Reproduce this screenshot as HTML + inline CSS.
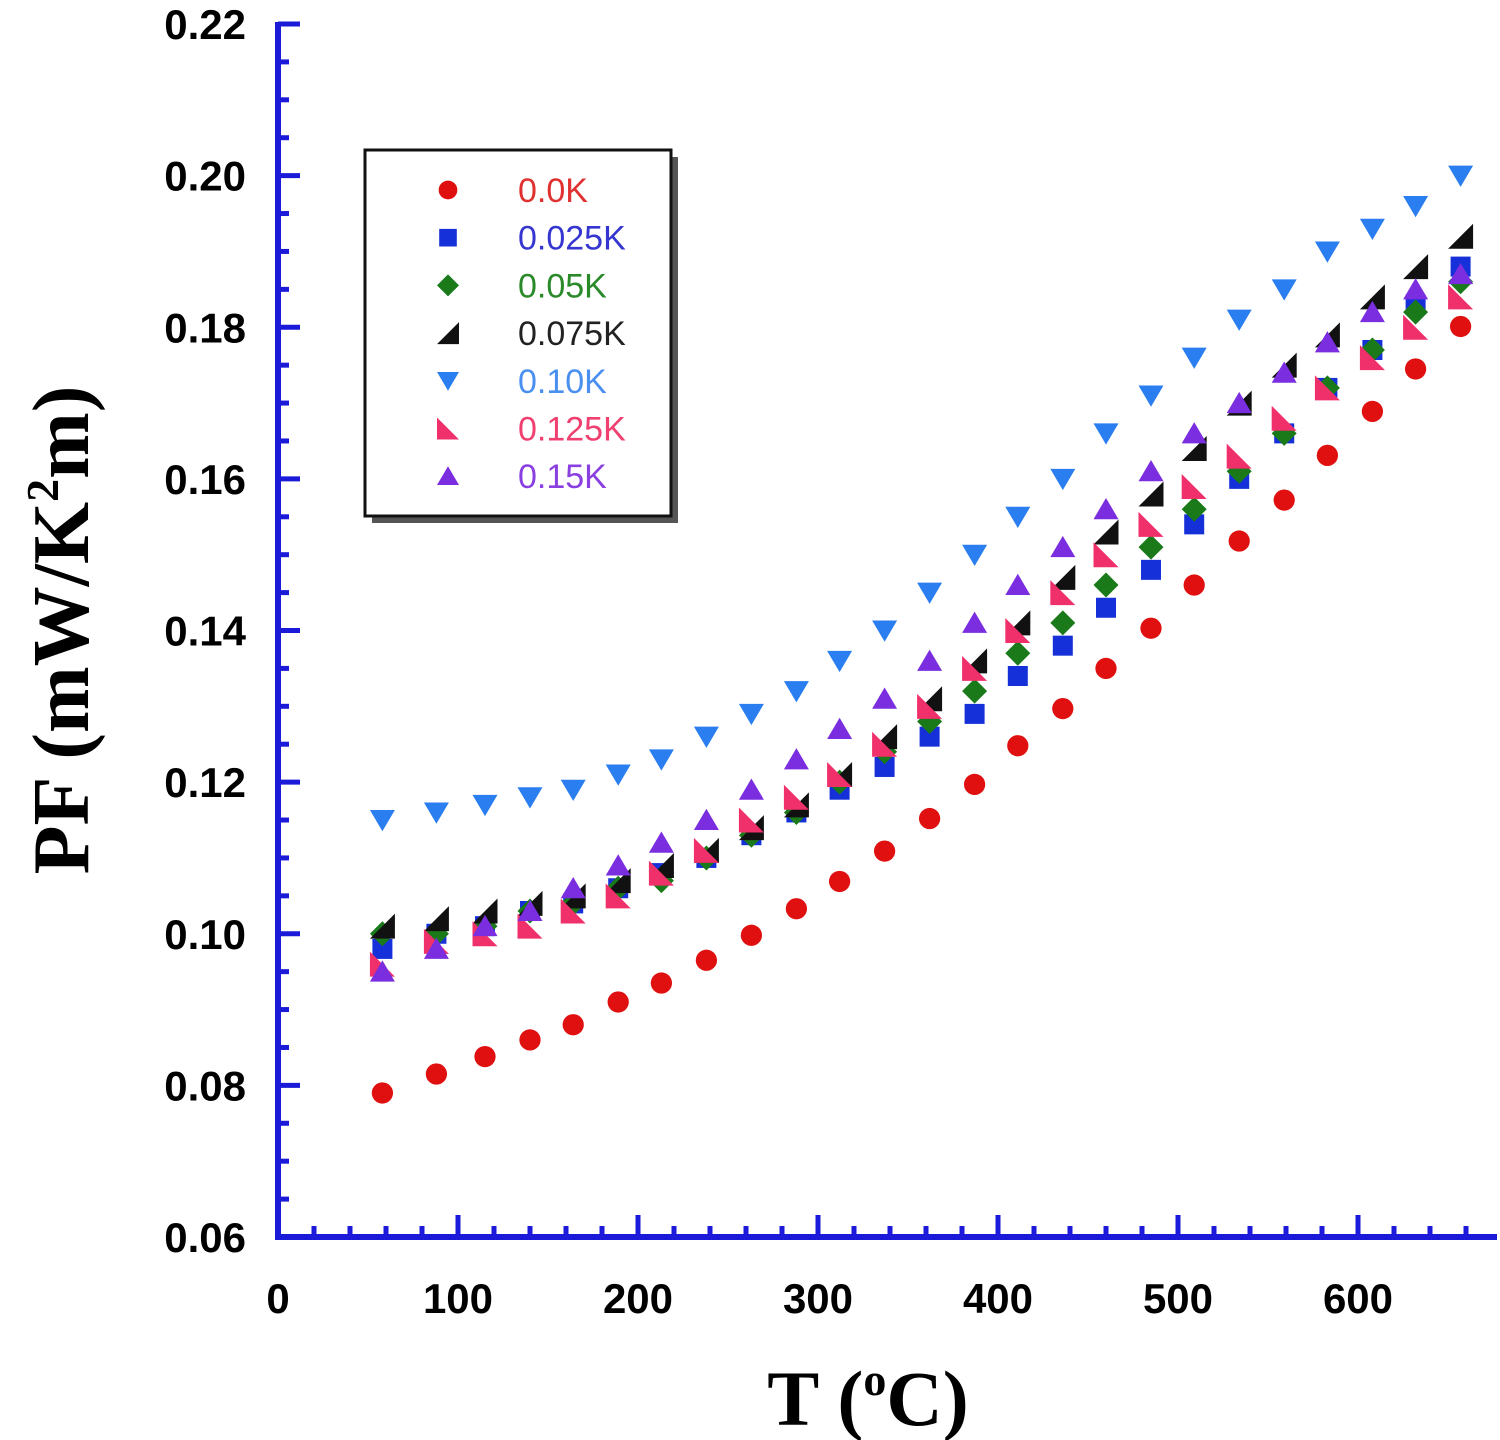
<!DOCTYPE html>
<html><head><meta charset="utf-8"><style>
body{margin:0;background:#fff}
svg{display:block}
</style></head><body>
<svg id="c" width="1500" height="1440" viewBox="0 0 1500 1440" xmlns="http://www.w3.org/2000/svg"></svg>
<script>
const temps=[58,88,115,140,164,189,213,238,263,288,312,337,362,387,411,436,460,485,509,534,559,583,608,632,657];
const s00=[0.079,0.0815,0.0838,0.086,0.088,0.091,0.0935,0.0965,0.0998,0.1033,0.1069,0.1109,0.1152,0.1197,0.1248,0.1297,0.1350,0.1403,0.1460,0.1518,0.1572,0.1631,0.1689,0.1745,0.1801];
const s025=[0.098,0.100,0.101,0.103,0.104,0.106,0.108,0.110,0.113,0.116,0.119,0.122,0.126,0.129,0.134,0.138,0.143,0.148,0.154,0.160,0.166,0.172,0.177,0.183,0.188];
const s05=[0.100,0.100,0.101,0.103,0.104,0.106,0.107,0.110,0.113,0.116,0.120,0.124,0.128,0.132,0.137,0.141,0.146,0.151,0.156,0.161,0.166,0.172,0.177,0.182,0.186];
const s075=[0.101,0.102,0.103,0.104,0.105,0.107,0.109,0.111,0.114,0.117,0.121,0.126,0.131,0.136,0.141,0.147,0.153,0.158,0.164,0.170,0.175,0.179,0.184,0.188,0.192];
const s10=[0.115,0.116,0.117,0.118,0.119,0.121,0.123,0.126,0.129,0.132,0.136,0.140,0.145,0.150,0.155,0.160,0.166,0.171,0.176,0.181,0.185,0.190,0.193,0.196,0.200];
const s125=[0.096,0.099,0.100,0.101,0.103,0.105,0.108,0.111,0.115,0.118,0.121,0.125,0.130,0.135,0.140,0.145,0.150,0.154,0.159,0.163,0.168,0.172,0.176,0.180,0.184];
const s15=[0.095,0.098,0.101,0.103,0.106,0.109,0.112,0.115,0.119,0.123,0.127,0.131,0.136,0.141,0.146,0.151,0.156,0.161,0.166,0.170,0.174,0.178,0.182,0.185,0.187];
const xTicks=[0,100,200,300,400,500,600];
const yTicks=[0.06,0.08,0.10,0.12,0.14,0.16,0.18,0.20,0.22];
const labels=["0.0K","0.025K","0.05K","0.075K","0.10K","0.125K","0.15K"];

const NS="http://www.w3.org/2000/svg";
const svg=document.getElementById('c');
const X=t=>278+t*1.8;
const Y=v=>1237-(v-0.06)/0.16*1213;
function mk(tag,a,parent){const e=document.createElementNS(NS,tag);for(const k in a)e.setAttribute(k,a[k]);(parent||svg).appendChild(e);return e;}
const AX="#1a1ad8";
for(let t=20;t<=660;t+=20){const l=mk('line',{x1:X(t),x2:X(t),y1:1237,y2:t%100===0?1215:1226,stroke:AX,'stroke-width':5});

}
for(let v=0.065;v<=0.2201;v+=0.005){const maj=Math.abs((v*100)%2)<0.01||Math.abs((v*100)%2-2)<0.01;const l=mk('line',{x1:278,x2:maj?300:289,y1:Y(v),y2:Y(v),stroke:AX,'stroke-width':5});

}
const xa=mk('line',{x1:275,x2:1497,y1:1237,y2:1237,stroke:AX,'stroke-width':6});


const ya=mk('line',{x1:278,x2:278,y1:22,y2:1240,stroke:AX,'stroke-width':6});


xTicks.forEach(t=>{const e=mk('text',{x:X(t),y:1313,'text-anchor':'middle','font-family':'Liberation Sans,sans-serif','font-weight':'bold','font-size':42});e.textContent=t;

});
yTicks.forEach(v=>{const e=mk('text',{x:246,y:Y(v)+15,'text-anchor':'end','font-family':'Liberation Sans,sans-serif','font-weight':'bold','font-size':42});e.textContent=v.toFixed(2);

});
function marker(type,cx,cy,col,s,parent){
  const r=s;
  if(type==='circle')return mk('circle',{cx:cx,cy:cy,r:r*0.85,fill:col},parent);
  if(type==='square')return mk('rect',{x:cx-r*0.8,y:cy-r*0.8,width:r*1.6,height:r*1.6,fill:col},parent);
  if(type==='diamond')return mk('polygon',{points:`${cx},${cy-r} ${cx+r},${cy} ${cx},${cy+r} ${cx-r},${cy}`,fill:col},parent);
  if(type==='lr')return mk('polygon',{points:`${cx+r},${cy-r} ${cx+r},${cy+r} ${cx-r},${cy+r}`,fill:col},parent);
  if(type==='down')return mk('polygon',{points:`${cx-r},${cy-r*0.8} ${cx+r},${cy-r*0.8} ${cx},${cy+r*0.9}`,fill:col},parent);
  if(type==='ll')return mk('polygon',{points:`${cx-r},${cy-r} ${cx+r},${cy+r} ${cx-r},${cy+r}`,fill:col},parent);
  if(type==='up')return mk('polygon',{points:`${cx-r},${cy+r*0.8} ${cx+r},${cy+r*0.8} ${cx},${cy-r*0.9}`,fill:col},parent);
}
const series=[[s00,'circle','#e01010','0.0K'],[s025,'square','#1530d8','0.025K'],[s05,'diamond','#1a7a1a','0.05K'],[s075,'lr','#111','0.075K'],[s10,'down','#2a7ef0','0.10K'],[s125,'ll','#f0306a','0.125K'],[s15,'up','#7a2ee0','0.15K']];
const tcol=['#e03030','#3535d0','#2a8a2a','#222','#4a90f0','#f04070','#8a40e0'];
series.forEach((s,i)=>{const g=mk('g',{});


s[0].forEach((v,j)=>{const m=marker(s[1],X(temps[j]),Y(v),s[2],12.5,g);

});});
const lg=mk('g',{});


mk('rect',{x:372,y:157,width:306,height:366,fill:'#555'},lg);
mk('rect',{x:365,y:150,width:306,height:366,fill:'#fff',stroke:'#111','stroke-width':3},lg);
labels.forEach((l,i)=>{const y=190+i*47.7;
const m=marker(series[i][1],448,y,series[i][2],11,lg);


const t=mk('text',{x:518,y:y+12,'font-family':'Liberation Sans,sans-serif','font-size':34,fill:tcol[i]},lg);t.textContent=l;

});
const xt=mk('text',{x:868,y:1425,'text-anchor':'middle','font-family':'Liberation Serif,serif','font-weight':'bold','font-size':78});
xt.innerHTML='T (<tspan font-size="46" dy="-30">o</tspan><tspan dy="30">C)</tspan>';


const yt=mk('text',{x:0,y:0,'text-anchor':'middle','font-family':'Liberation Serif,serif','font-weight':'bold','font-size':80,transform:'translate(88,630) rotate(-90)'});
yt.innerHTML='PF (mW/K<tspan font-size="46" dy="-30">2</tspan><tspan dy="30">m)</tspan>';


</script>
</body></html>
